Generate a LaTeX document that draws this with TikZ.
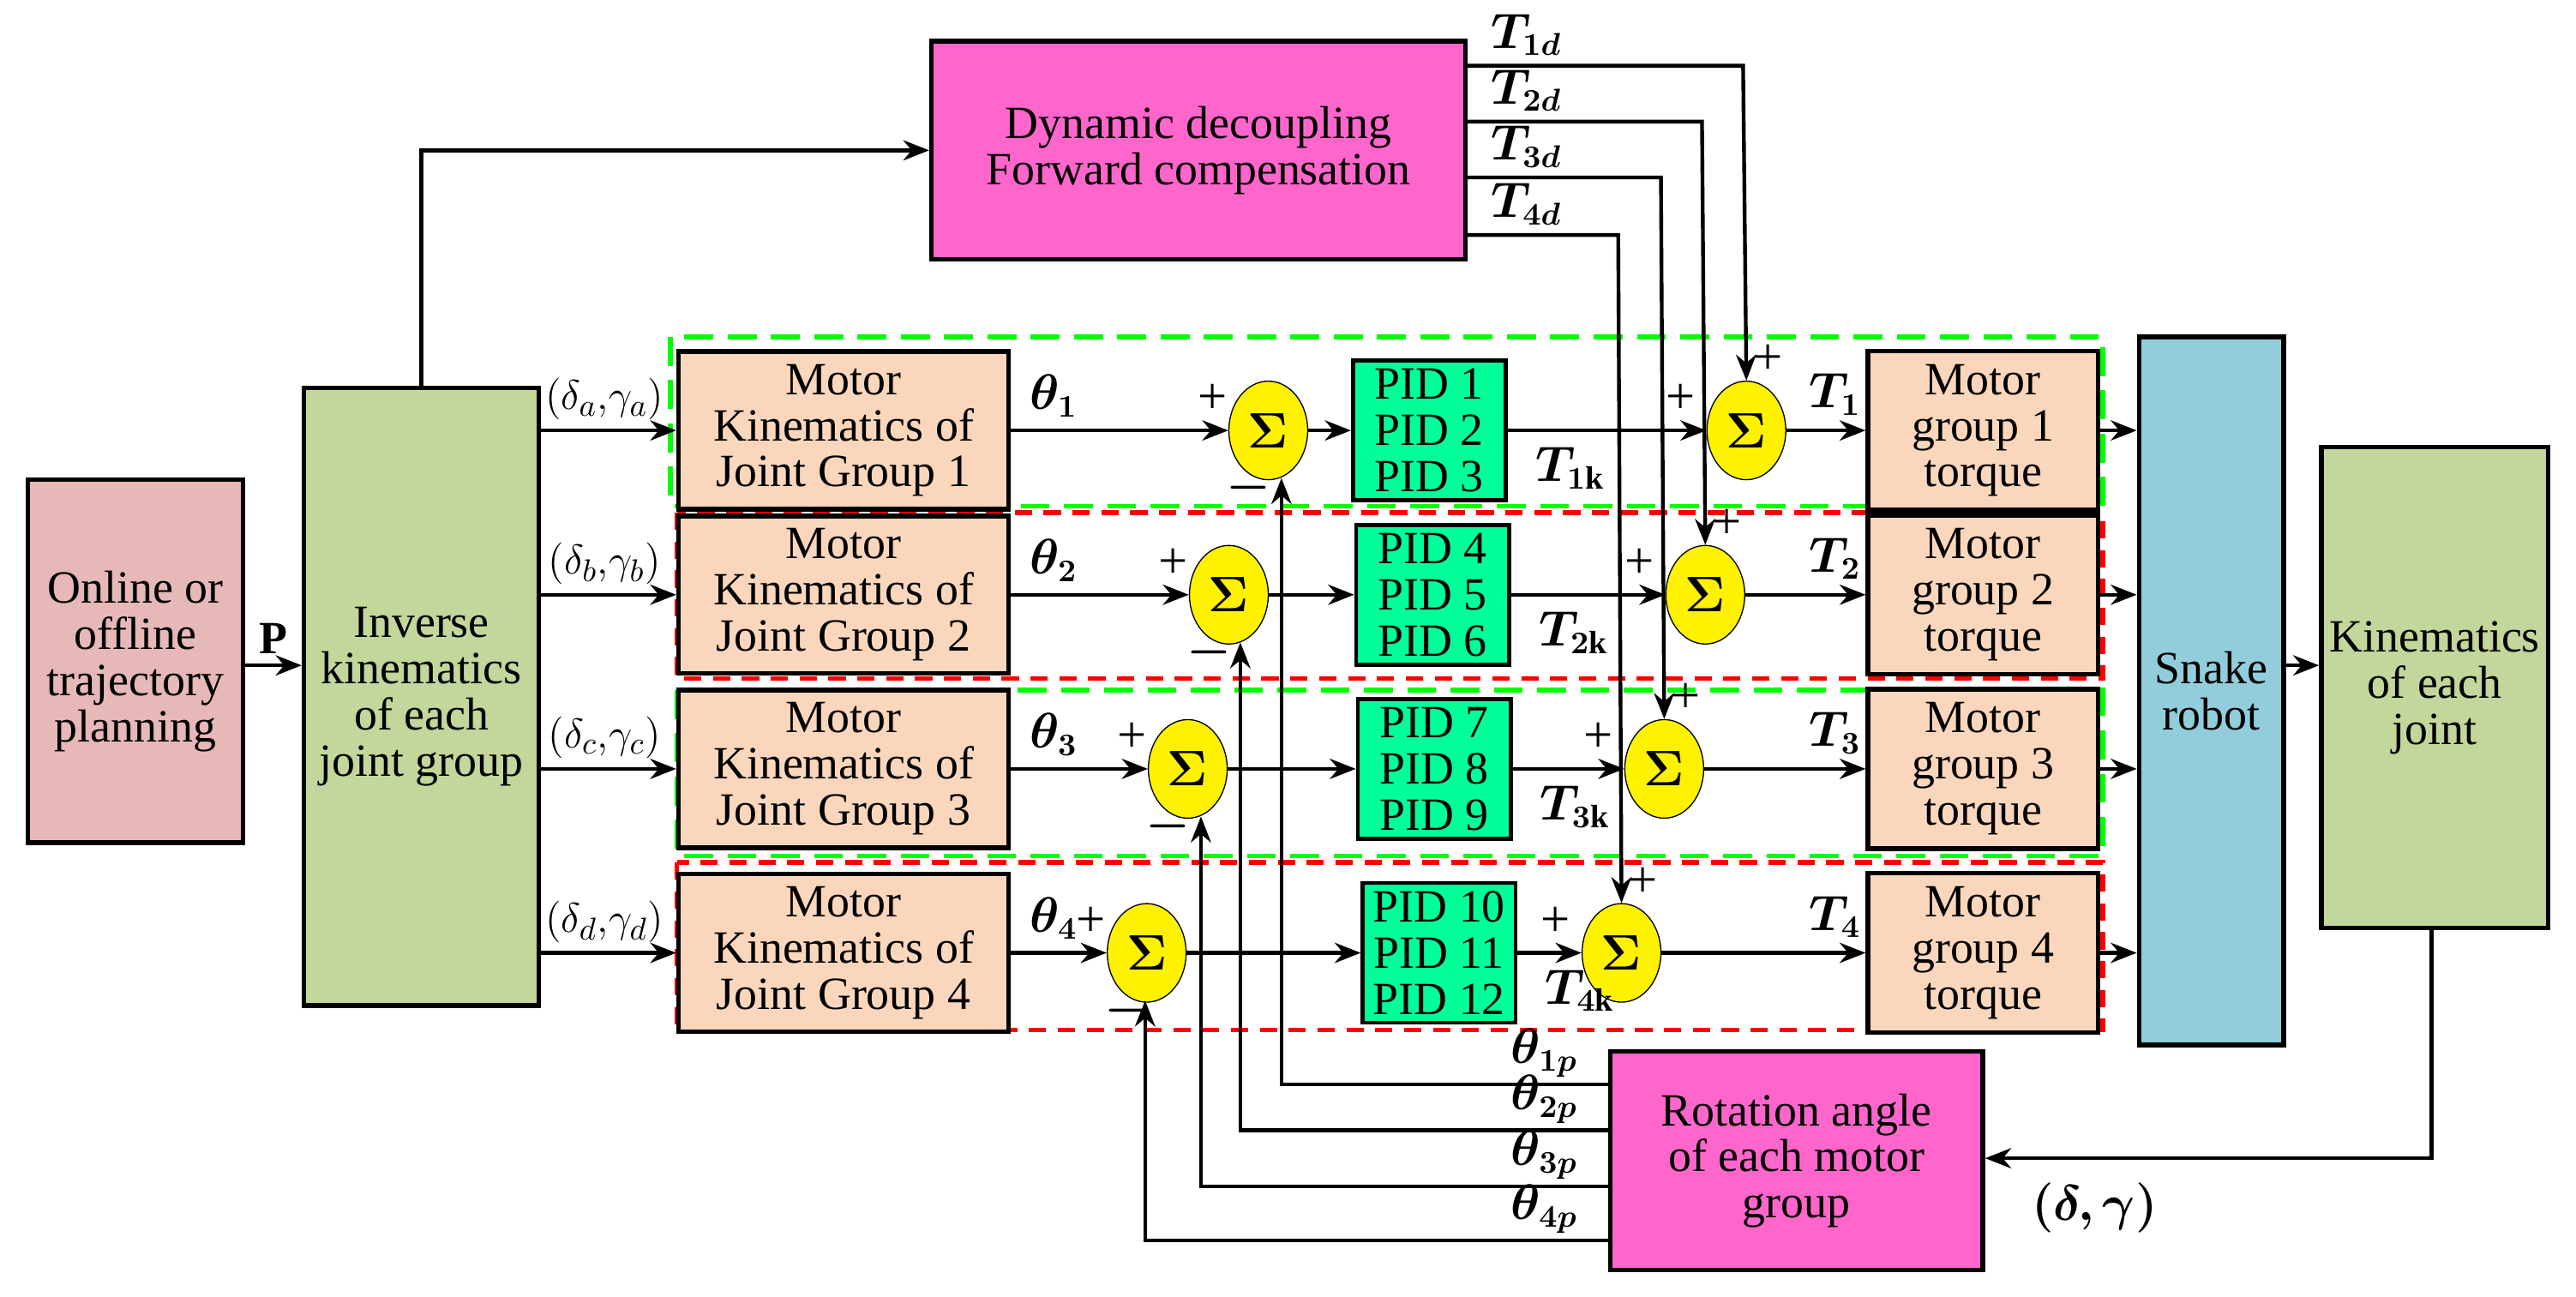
\documentclass[tikz,border=0pt]{standalone}
\usepackage{fontspec}
\usepackage{amsmath,bm}
\setmainfont{Liberation Serif}
\usetikzlibrary{arrows.meta,shapes.geometric,calc}
\definecolor{pinkb}{HTML}{FF66CC}
\definecolor{rose}{HTML}{E6B8B8}
\definecolor{olive}{HTML}{C3D69B}
\definecolor{peach}{HTML}{FAD7BC}
\definecolor{mint}{HTML}{00FF99}
\definecolor{sky}{HTML}{92CDDC}
\begin{document}
\begin{tikzpicture}[x=0.02cm,y=-0.02cm,
  font=\fontsize{16}{16}\selectfont,
  box/.style={draw,line width=1.6pt,inner sep=0pt,align=center},
  sum/.style={ellipse,draw,fill=yellow,minimum width=0.96cm,minimum height=1.2cm,inner sep=0pt},
  arr/.style={line width=1.3pt,-{Stealth[length=9pt,width=7pt]}},
  lab/.style={font=\fontsize{16}{16}\selectfont\bfseries\itshape},
  sg/.style={font=\fontsize{18}{18}\selectfont}]
\useasboundingbox (0,0) rectangle (1568,789);
% frames
\draw[green,line width=1.6pt,dash pattern=on 10pt off 5pt] (408,205) rectangle (1280,308);
\draw[red,line width=1.6pt,dash pattern=on 6pt off 4pt] (412,312) rectangle (1280,413);
\draw[green,line width=1.6pt,dash pattern=on 10pt off 5pt] (412,420) rectangle (1280,521);
\draw[red,line width=1.6pt,dash pattern=on 6pt off 4pt] (412,525) rectangle (1280,627);
% main boxes
\node[box,fill=rose,minimum width=2.62cm,minimum height=4.42cm] (on) at (82.5,402.5) {Online or\\offline\\trajectory\\planning};
\node[box,fill=olive,minimum width=2.86cm,minimum height=7.52cm] (inv) at (256.5,424) {Inverse\\kinematics\\of each\\joint group};
\node[box,fill=pinkb,minimum width=6.5cm,minimum height=2.66cm] (dyn) at (729.5,91.5) {Dynamic decoupling\\Forward compensation};
\node[box,fill=sky,minimum width=1.76cm,minimum height=8.62cm] (snake) at (1346,420.5) {Snake\\robot};
\node[box,fill=olive,minimum width=2.76cm,minimum height=5.86cm] (kj) at (1482,418.5) {Kinematics\\of each\\joint};
\node[box,fill=pinkb,minimum width=4.54cm,minimum height=2.66cm] (rot) at (1093.5,706.5) {Rotation angle\\of each motor\\group};
\draw[arr] (on.east |- 0,405) -- node[above,font=\fontsize{16}{16}\selectfont\bfseries]{P} (inv.west |- 0,405);
\draw[arr] (inv.north) -- (inv.north |- dyn.west) -- (dyn.west);
\draw[arr] (snake.east |- 0,405) -- (kj.west |- 0,405);
\coordinate (kb) at (1480,705);
\draw[arr] (kj.south -| kb) -- (kb) -- (rot.east |- kb);
\node[font=\fontsize{16}{16}\selectfont] at (1275,735) {$\bm{(\delta,\gamma)}$};
% rows
\foreach \i/\r/\sa/\pa/\sb/\fb/\td/\dx/\tl/\pp/\pl/\gi in {
 1/262/772/870/1063/780/40/1061/a/1/2/3,
 2/362/748/872/1038/755/74/1036/b/4/5/6,
 3/468/723/873/1013/731/108/1011/c/7/8/9,
 4/580/698/876/987/697/143/985/d/10/11/12}{
 \node[box,fill=peach,minimum width=4.02cm,minimum height=1.92cm] (k\i) at (513.5,\r) {Motor\\Kinematics of\\Joint Group \i};
 \node[sum] (s\i) at (\sa,\r) {$\bm{\Sigma}$};
 \node[box,fill=mint,minimum width=1.86cm,minimum height=1.7cm,line width=1.4pt] (p\i) at (\pa,\r) {PID \pp\\PID \pl\\PID \gi};
 \node[sum] (t\i) at (\sb,\r) {$\bm{\Sigma}$};
 \node[box,fill=peach,minimum width=2.8cm,minimum height=1.94cm] (m\i) at (1207,\r) {Motor\\group \i\\torque};
 \draw[arr] (inv.east |- k\i) -- (k\i.west);
 \node[font=\fontsize{15}{15}\selectfont] at (368,\r-19) {$(\delta_\tl,\!\gamma_\tl)$};
 \draw[arr] (k\i) -- (s\i);
 \node[lab] at ($(k\i.east)+(26,-21)$) {$\bm{\theta_{\i}}$};
 \node[sg] at ($(s\i)+(-34,-19)$) {+};
 \node[sg] at ($(s\i)+(-12,35)$) {$\bm{-}$};
 \draw[arr] (s\i) -- (p\i);
 \draw[arr] (p\i) -- (t\i);
 \node[lab] at ($(p\i.east)+(38,23)$) {$\bm{T_{\i\mathrm{k}}}$};
 \node[sg] at ($(t\i)+(-40,-19)$) {+};
 \node[sg] at ($(t\i)+(13,-43)$) {+};
 \draw[arr] (t\i) -- (m\i);
 \node[lab] at (1117,\r-22) {$\bm{T_{\i}}$};
 \draw[arr] (m\i.east) -- (m\i.east -| snake.west);
 \coordinate (d\i) at (\dx,\td);
 \draw[arr] (dyn.east |- d\i) -- (d\i) -- (t\i.north);
 \node[lab,anchor=south west] at ($(dyn.east |- d\i)+(8,0)$) {$\bm{T_{\i d}}$};
 \coordinate (f\i) at (\fb,\r+29);
}
\foreach \i/\y in {1/660,2/688,3/722,4/755}{
 \coordinate (g\i) at (0,\y);
 \draw[arr] (rot.west |- g\i) -- (f\i |- g\i) -- (f\i);
 \node[lab,anchor=south] at (940,\y+2) {$\bm{\theta_{\i p}}$};
}
\end{tikzpicture}
\end{document}
